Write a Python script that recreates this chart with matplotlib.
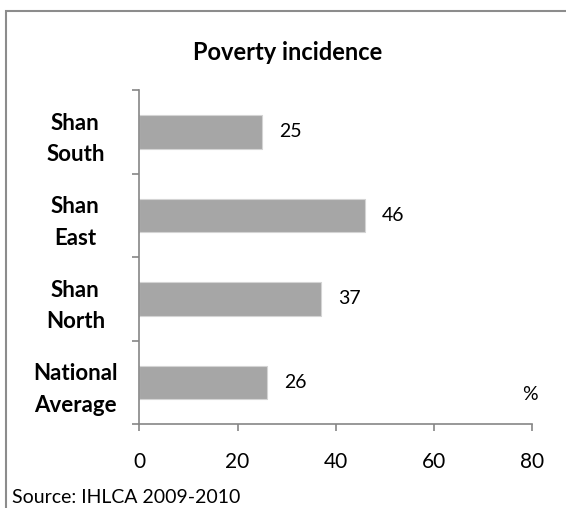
import matplotlib
matplotlib.use("Agg")
import matplotlib.pyplot as plt
from matplotlib.patches import Rectangle

# Poverty incidence by region (%)
regions = ["Shan\nSouth", "Shan\nEast", "Shan\nNorth", "National\nAverage"]
incidence = [25, 46, 37, 26]
xticks = [0, 20, 40, 60, 80]

plt.rcParams["font.family"] = ["Lato", "DejaVu Sans"]
axis_grey = "#868686"

fig = plt.figure(figsize=(5.66, 5.08), dpi=100)
ax = fig.add_axes([0.2461, 0.1648, 0.6944, 0.658])

ypos = list(range(len(regions)))
bars = ax.barh(ypos, incidence, height=0.4, color="#a6a6a6",
               edgecolor="#d4d4d4", linewidth=0.8)
ax.bar_label(bars, fmt="%d", padding=12, fontsize=14)

ax.set_xlim(0, 80)
ax.set_ylim(len(regions) - 0.5, -0.5)
ax.set_xticks(xticks)
ax.set_yticks(ypos)
ax.set_yticklabels(regions, fontweight="bold", fontsize=16,
                   ha="center", linespacing=1.6)
ax.set_yticks([i - 0.5 for i in range(len(regions) + 1)], minor=True)

ax.tick_params(axis="y", which="major", length=0, pad=46)
ax.tick_params(axis="y", which="minor", length=5, width=1.2,
               color=axis_grey, direction="out")
ax.tick_params(axis="x", length=5, width=1.2, color=axis_grey,
               labelsize=15, pad=15)

for side in ["top", "right"]:
    ax.spines[side].set_visible(False)
for side in ["left", "bottom"]:
    ax.spines[side].set_color(axis_grey)
    ax.spines[side].set_linewidth(1.2)

ax.text(0.995, 0.09, "%", transform=ax.transAxes, ha="center",
        va="center", fontsize=14)

fig.text(0.509, 0.897, "Poverty incidence", ha="center", va="center",
         fontsize=17, fontweight="bold")
fig.text(0.022, 0.02, "Source: IHLCA 2009-2010", ha="left",
         va="center", fontsize=14)

# chart area border, running off the right and bottom edges
fig.add_artist(Rectangle((6 / 566, -0.2), 1.2, 1.2 - 11 / 508,
                         transform=fig.transFigure, fill=False,
                         edgecolor="#8c8c8c", linewidth=1.5))

fig.savefig("out.png", dpi=100)
